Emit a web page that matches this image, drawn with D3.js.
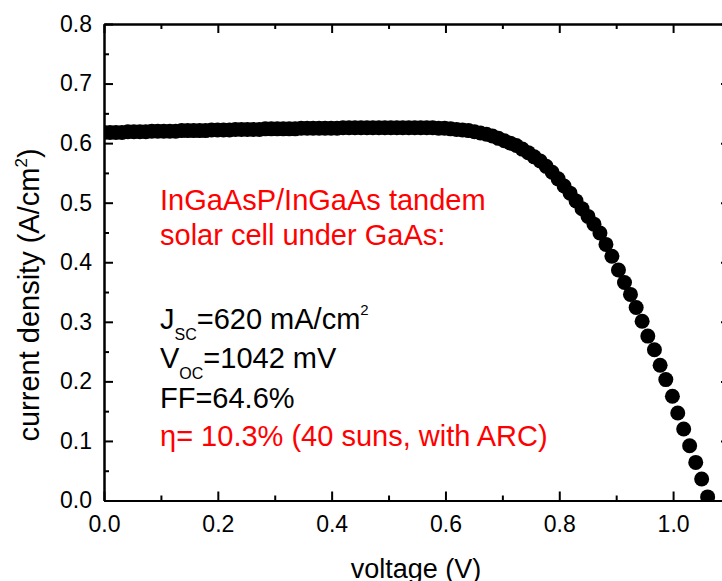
<!DOCTYPE html>
<html>
<head>
<meta charset="utf-8">
<script src="https://cdnjs.cloudflare.com/ajax/libs/d3/7.8.5/d3.min.js"></script>
<style>
body { margin: 0; background: #fff; }
text { font-family: "Liberation Sans", Arial, sans-serif; }
</style>
</head>
<body>
<div id="ivchart"></div>
<script>
// measured J-V points (V in volts, J in A/cm2)
var voltage = [
  0.0000, 0.0105, 0.0210, 0.0315, 0.0420, 0.0525, 0.0630, 0.0735, 0.0840, 0.0945,
  0.1050, 0.1155, 0.1260, 0.1365, 0.1470, 0.1575, 0.1680, 0.1785, 0.1890, 0.1995,
  0.2100, 0.2205, 0.2310, 0.2415, 0.2520, 0.2625, 0.2730, 0.2835, 0.2940, 0.3045,
  0.3150, 0.3255, 0.3360, 0.3465, 0.3570, 0.3675, 0.3780, 0.3885, 0.3990, 0.4095,
  0.4200, 0.4305, 0.4410, 0.4515, 0.4620, 0.4725, 0.4830, 0.4935, 0.5040, 0.5145,
  0.5250, 0.5355, 0.5460, 0.5565, 0.5670, 0.5775, 0.5880, 0.5985, 0.6090, 0.6195,
  0.6300, 0.6405, 0.6510, 0.6615, 0.6720, 0.6825, 0.6930, 0.7035, 0.7140, 0.7245,
  0.7350, 0.7455, 0.7560, 0.7665, 0.7770, 0.7875, 0.7980, 0.8085, 0.8190, 0.8295,
  0.8400, 0.8505, 0.8610, 0.8715, 0.8820, 0.8925, 0.9040, 0.9146, 0.9251, 0.9351,
  0.9456, 0.9556, 0.9672, 0.9772, 0.9872, 0.9988, 1.0082, 1.0186, 1.0291, 1.0398,
  1.0502, 1.0607
];
var currentDensity = [
  0.618, 0.618, 0.618, 0.618, 0.619, 0.619, 0.619, 0.619, 0.620, 0.620,
  0.620, 0.620, 0.620, 0.621, 0.621, 0.621, 0.621, 0.621, 0.622, 0.622,
  0.622, 0.622, 0.623, 0.623, 0.623, 0.623, 0.623, 0.624, 0.624, 0.624,
  0.624, 0.624, 0.624, 0.625, 0.625, 0.625, 0.625, 0.625, 0.625, 0.625,
  0.626, 0.626, 0.626, 0.626, 0.626, 0.626, 0.626, 0.626, 0.626, 0.626,
  0.626, 0.626, 0.626, 0.626, 0.626, 0.626, 0.625, 0.625, 0.624, 0.623,
  0.622, 0.621, 0.619, 0.617, 0.615, 0.612, 0.608, 0.604, 0.600, 0.596,
  0.590, 0.584, 0.577, 0.570, 0.561, 0.551, 0.540, 0.528, 0.516, 0.503,
  0.490, 0.477, 0.464, 0.449, 0.430, 0.410, 0.387, 0.366, 0.346, 0.324,
  0.301, 0.276, 0.253, 0.227, 0.203, 0.175, 0.147, 0.120, 0.092, 0.064,
  0.036, 0.006
];

// axis ticks
var xMajorTicks = [0.0, 0.2, 0.4, 0.6, 0.8, 1.0];
var xMinorTicks = [0.1, 0.3, 0.5, 0.7, 0.9, 1.1];
var yMajorTicks = [0.0, 0.1, 0.2, 0.3, 0.4, 0.5, 0.6, 0.7, 0.8];
var yMinorTicks = [0.05, 0.15, 0.25, 0.35, 0.45, 0.55, 0.65, 0.75];

// annotation text
var headerLines = ["InGaAsP/InGaAs tandem", "solar cell under GaAs:"];
var jscText = ["J", "SC", "=620 mA/cm", "2"];
var vocText = ["V", "OC", "=1042 mV"];
var ffText = "FF=64.6%";
var etaText = "\u03b7= 10.3% (40 suns, with ARC)";

// set the dimensions and margins of the graph
var margin = {top: 24, right: -8, bottom: 80.5, left: 104},
    width = 722 - margin.left - margin.right,
    height = 581 - margin.top - margin.bottom;

// set the ranges
var x = d3.scaleLinear().domain([0, 1.1]).range([0, width]);
var y = d3.scaleLinear().domain([0, 0.8]).range([height, 0]);

var points = voltage.map(function(v, i) { return {v: v, j: currentDensity[i]}; });

var svg = d3.select("#ivchart").append("svg")
    .attr("width", 722)
    .attr("height", 581)
  .append("g")
    .attr("transform", "translate(" + margin.left + "," + margin.top + ")");

svg.append("clipPath").attr("id", "clip")
  .append("rect")
    .attr("width", width)
    .attr("height", height);

// the data points
svg.append("g")
    .attr("clip-path", "url(#clip)")
  .selectAll("circle")
    .data(points)
  .join("circle")
    .attr("cx", function(d) { return x(d.v); })
    .attr("cy", function(d) { return y(d.j); })
    .attr("r", 7.5)
    .style("fill", "#000");

function styleAxis(g, fontSize) {
  g.selectAll("path").style("stroke", "#000").style("stroke-width", 2);
  g.selectAll("line").style("stroke", "#000").style("stroke-width", 2);
  g.selectAll("text").style("font-size", fontSize + "px").style("fill", "#000")
    .style("font-family", "'Liberation Sans', Arial, sans-serif");
}

// bottom axis with labels
svg.append("g")
    .attr("transform", "translate(0," + height + ")")
    .call(d3.axisBottom(x).tickValues(xMajorTicks).tickSize(-9).tickSizeOuter(0)
      .tickPadding(15).tickFormat(d3.format(".1f")))
    .call(styleAxis, 23);
svg.append("g")
    .attr("transform", "translate(0," + height + ")")
    .call(d3.axisBottom(x).tickValues(xMinorTicks).tickSize(-5).tickSizeOuter(0).tickFormat(""))
    .call(styleAxis, 23);

// top axis
svg.append("g")
    .call(d3.axisTop(x).tickValues(xMajorTicks).tickSize(-9).tickSizeOuter(0).tickFormat(""))
    .call(styleAxis, 23);
svg.append("g")
    .call(d3.axisTop(x).tickValues(xMinorTicks).tickSize(-5).tickSizeOuter(0).tickFormat(""))
    .call(styleAxis, 23);

// left axis with labels
svg.append("g")
    .call(d3.axisLeft(y).tickValues(yMajorTicks).tickSize(-9).tickSizeOuter(0)
      .tickPadding(12).tickFormat(d3.format(".1f")))
    .call(styleAxis, 23);
svg.append("g")
    .call(d3.axisLeft(y).tickValues(yMinorTicks).tickSize(-5).tickSizeOuter(0).tickFormat(""))
    .call(styleAxis, 23);

// right axis
svg.append("g")
    .attr("transform", "translate(" + width + ",0)")
    .call(d3.axisRight(y).tickValues(yMajorTicks).tickSize(-9).tickSizeOuter(0).tickFormat(""))
    .call(styleAxis, 23);
svg.append("g")
    .attr("transform", "translate(" + width + ",0)")
    .call(d3.axisRight(y).tickValues(yMinorTicks).tickSize(-5).tickSizeOuter(0).tickFormat(""))
    .call(styleAxis, 23);

// axis titles
svg.append("text")
    .attr("x", 312)
    .attr("y", 554)
    .attr("text-anchor", "middle")
    .style("font-size", "27px")
    .text("voltage (V)");

var ytitle = svg.append("text")
    .attr("transform", "translate(-65," + 271 + ") rotate(-90)")
    .attr("text-anchor", "middle")
    .style("font-size", "29px");
ytitle.append("tspan").text("current density (A/cm");
ytitle.append("tspan").attr("dy", -12).style("font-size", "17px").text("2");
ytitle.append("tspan").attr("dy", 12).text(")");

// annotations (page coordinates shifted by margin)
var ann = svg.append("g").attr("transform", "translate(" + (-margin.left) + "," + (-margin.top) + ")");

ann.selectAll("text.hdr")
    .data(headerLines)
  .join("text")
    .attr("class", "hdr")
    .attr("x", 160)
    .attr("y", function(d, i) { return 210 + i * 35; })
    .style("font-size", "29px")
    .style("fill", "#ff0000")
    .text(function(d) { return d; });

var jsc = ann.append("text").attr("x", 160).attr("y", 329).style("font-size", "29px");
jsc.append("tspan").text(jscText[0]);
jsc.append("tspan").attr("dy", 11).style("font-size", "16px").text(jscText[1]);
jsc.append("tspan").attr("dy", -11).text(jscText[2]);
jsc.append("tspan").attr("dy", -14).style("font-size", "15px").text(jscText[3]);

var voc = ann.append("text").attr("x", 160).attr("y", 368).style("font-size", "29px");
voc.append("tspan").text(vocText[0]);
voc.append("tspan").attr("dy", 11).style("font-size", "16px").text(vocText[1]);
voc.append("tspan").attr("dy", -11).text(vocText[2]);

ann.append("text").attr("x", 160).attr("y", 408).style("font-size", "29px").text(ffText);

ann.append("text").attr("x", 160).attr("y", 446)
    .style("font-size", "29px")
    .style("fill", "#ff0000")
    .text(etaText);
</script>
</body>
</html>
